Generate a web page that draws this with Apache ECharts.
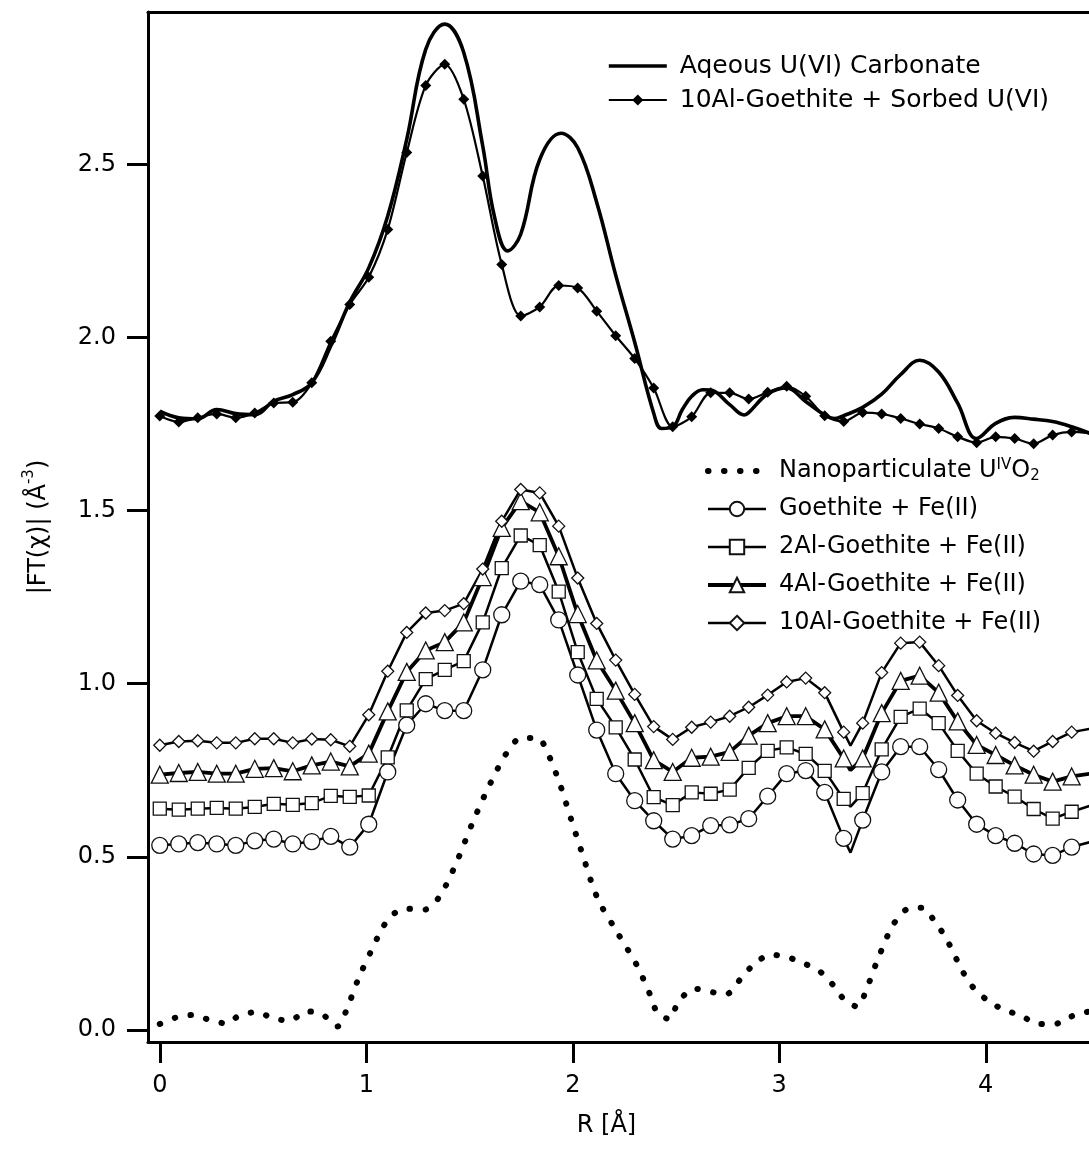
<!DOCTYPE html>
<html>
<head>
<meta charset="utf-8">
<title>|FT(χ)| vs R</title>
<script src="https://cdn.jsdelivr.net/npm/echarts@6/dist/echarts.min.js"></script>
<style>
  html, body { margin: 0; padding: 0; background: #ffffff; }
  #chart { width: 1089px; height: 1152px; }
</style>
</head>
<body>
<div id="chart"></div>
<script>
// R grid (Å) shared by the marker series
const rGrid = [0, 0.092, 0.184, 0.276, 0.368, 0.46, 0.552, 0.644, 0.736, 0.828,
  0.92, 1.012, 1.104, 1.196, 1.288, 1.38, 1.472, 1.564, 1.656, 1.748,
  1.84, 1.932, 2.024, 2.116, 2.208, 2.3, 2.392, 2.484, 2.576, 2.668,
  2.76, 2.852, 2.944, 3.036, 3.128, 3.22, 3.312, 3.404, 3.496, 3.588,
  3.68, 3.772, 3.864, 3.956, 4.048, 4.14, 4.232, 4.324, 4.416, 4.508];

// Fe(II)-reacted goethites: |FT| on the grid, plus the sharp minimum near 3.345 Å
const dipR = 3.345;
const goethiteFe = [0.533, 0.537, 0.541, 0.537, 0.533, 0.546, 0.551, 0.537, 0.544, 0.559,
  0.528, 0.594, 0.745, 0.880, 0.942, 0.922, 0.922, 1.040, 1.199, 1.296,
  1.286, 1.184, 1.025, 0.866, 0.740, 0.662, 0.604, 0.551, 0.561, 0.590,
  0.592, 0.610, 0.675, 0.740, 0.749, 0.686, 0.553, 0.606, 0.745, 0.818,
  0.818, 0.752, 0.664, 0.594, 0.561, 0.539, 0.508, 0.504, 0.528, 0.543];
const goethiteFeDip = 0.512;

const al2Fe = [0.639, 0.636, 0.639, 0.641, 0.639, 0.644, 0.653, 0.650, 0.655, 0.676,
  0.673, 0.677, 0.787, 0.923, 1.013, 1.040, 1.065, 1.177, 1.334, 1.428,
  1.400, 1.266, 1.091, 0.956, 0.874, 0.781, 0.672, 0.649, 0.686, 0.682,
  0.694, 0.757, 0.806, 0.816, 0.797, 0.748, 0.667, 0.684, 0.810, 0.904,
  0.928, 0.886, 0.806, 0.740, 0.703, 0.674, 0.638, 0.610, 0.630, 0.648];
const al2FeDip = 0.645;

const al4Fe = [0.737, 0.742, 0.745, 0.740, 0.740, 0.754, 0.756, 0.747, 0.764, 0.775,
  0.761, 0.798, 0.920, 1.034, 1.096, 1.120, 1.177, 1.308, 1.450, 1.527,
  1.495, 1.368, 1.201, 1.067, 0.980, 0.886, 0.779, 0.745, 0.786, 0.789,
  0.803, 0.850, 0.886, 0.906, 0.906, 0.868, 0.784, 0.784, 0.915, 1.008,
  1.023, 0.974, 0.891, 0.823, 0.794, 0.764, 0.737, 0.717, 0.732, 0.740];
const al4FeDip = 0.750;

const al10Fe = [0.822, 0.833, 0.835, 0.829, 0.829, 0.841, 0.841, 0.829, 0.840, 0.838,
  0.819, 0.910, 1.036, 1.148, 1.204, 1.211, 1.231, 1.331, 1.469, 1.561,
  1.551, 1.455, 1.305, 1.174, 1.068, 0.969, 0.876, 0.839, 0.874, 0.889,
  0.906, 0.932, 0.967, 1.005, 1.016, 0.974, 0.860, 0.886, 1.032, 1.117,
  1.120, 1.052, 0.966, 0.893, 0.857, 0.830, 0.805, 0.833, 0.860, 0.870];
const al10FeDip = 0.821;

// 10Al-goethite with sorbed U(VI), on the same grid
const al10Sorbed = [1.773, 1.756, 1.768, 1.779, 1.768, 1.782, 1.811, 1.813, 1.869, 1.989,
  2.095, 2.174, 2.312, 2.534, 2.728, 2.789, 2.688, 2.466, 2.211, 2.062,
  2.088, 2.150, 2.143, 2.076, 2.005, 1.939, 1.854, 1.742, 1.771, 1.840,
  1.840, 1.822, 1.842, 1.859, 1.830, 1.774, 1.757, 1.783, 1.779, 1.766,
  1.750, 1.737, 1.713, 1.696, 1.713, 1.708, 1.693, 1.718, 1.727, 1.723];

// Aqueous U(VI) carbonate reference (smooth curve)
const carbR = [0, 0.092, 0.184, 0.276, 0.368, 0.46, 0.552, 0.644, 0.736, 0.828,
  0.92, 1.012, 1.104, 1.196, 1.288, 1.38, 1.472, 1.564, 1.62, 1.685,
  1.748, 1.84, 1.943, 2.024, 2.116, 2.208, 2.30, 2.392, 2.43, 2.484,
  2.53, 2.576, 2.63, 2.668, 2.76, 2.83, 2.852, 2.944, 3.036, 3.128,
  3.22, 3.27, 3.312, 3.404, 3.496, 3.588, 3.68, 3.772, 3.864, 3.956,
  4.048, 4.14, 4.232, 4.324, 4.416, 4.508];
const carbonate = [1.787, 1.768, 1.765, 1.792, 1.780, 1.777, 1.816, 1.835, 1.869, 1.975,
  2.102, 2.201, 2.351, 2.572, 2.832, 2.905, 2.823, 2.553, 2.351, 2.250,
  2.298, 2.514, 2.590, 2.548, 2.390, 2.180, 1.986, 1.781, 1.737, 1.742,
  1.791, 1.830, 1.849, 1.848, 1.806, 1.776, 1.783, 1.837, 1.854, 1.815,
  1.776, 1.766, 1.774, 1.798, 1.836, 1.893, 1.934, 1.900, 1.810, 1.708,
  1.752, 1.769, 1.764, 1.757, 1.742, 1.722];

// Nanoparticulate UO2 (dotted curve)
const nanoR = [0, 0.08, 0.16, 0.24, 0.32, 0.39, 0.47, 0.55, 0.63, 0.71,
  0.78, 0.86, 0.90, 0.96, 1.03, 1.07, 1.12, 1.20, 1.28, 1.35,
  1.43, 1.52, 1.60, 1.68, 1.75, 1.83, 1.88, 1.94, 1.99, 2.04,
  2.12, 2.21, 2.31, 2.38, 2.41, 2.47, 2.51, 2.59, 2.66, 2.74,
  2.81, 2.88, 2.96, 3.04, 3.11, 3.19, 3.26, 3.32, 3.38, 3.42,
  3.48, 3.55, 3.62, 3.69, 3.76, 3.81, 3.89, 3.94, 4.02, 4.09,
  4.17, 4.25, 4.33, 4.40, 4.48, 4.52];
const nanoUO2 = [0.017, 0.036, 0.043, 0.029, 0.019, 0.043, 0.051, 0.033, 0.027, 0.053,
  0.048, 0.010, 0.051, 0.145, 0.236, 0.284, 0.330, 0.350, 0.347, 0.381,
  0.474, 0.606, 0.711, 0.800, 0.843, 0.843, 0.798, 0.706, 0.612, 0.520,
  0.380, 0.287, 0.187, 0.094, 0.049, 0.031, 0.080, 0.119, 0.111, 0.102,
  0.145, 0.191, 0.217, 0.210, 0.194, 0.172, 0.130, 0.084, 0.067, 0.114,
  0.208, 0.302, 0.349, 0.353, 0.307, 0.262, 0.167, 0.122, 0.080, 0.058,
  0.041, 0.018, 0.016, 0.036, 0.050, 0.056];

// Axis ticks
const xTicks = [0, 1, 2, 3, 4];
const yTicks = [0, 0.5, 1.0, 1.5, 2.0, 2.5];

const NAMES = {
  carb: 'Aqeous U(VI) Carbonate',
  sorbed: '10Al-Goethite + Sorbed U(VI)',
  nano: 'Nanoparticulate UO2',
  g0: 'Goethite + Fe(II)',
  g2: '2Al-Goethite + Fe(II)',
  g4: '4Al-Goethite + Fe(II)',
  g10: '10Al-Goethite + Fe(II)'
};

const FONT = 'DejaVu Sans';

// shared line looks, used by the series and by their legend keys
const STYLE = {
  carb: { color: '#000', width: 3.6 },
  sorbed: { color: '#000', width: 2.2 },
  nano: { color: '#000', width: 6, type: [0.5, 15.5], cap: 'round', join: 'round' },
  g0: { color: '#000', width: 2.5 },
  g2: { color: '#000', width: 2.5 },
  g4: { color: '#000', width: 3.8 },
  g10: { color: '#000', width: 2.5 }
};

function pairs(xs, ys) {
  return ys.map((v, i) => [xs[i], v]);
}

// grid points, with the unmarked minimum vertex placed between 3.312 and 3.404 Å
function withDip(vals, dipVal) {
  const out = [];
  vals.forEach((v, i) => {
    out.push([rGrid[i], v]);
    if (rGrid[i] < dipR && rGrid[i + 1] > dipR) {
      out.push({ value: [dipR, dipVal], symbol: 'none' });
    }
  });
  return out;
}

function markerSeries(key, vals, dipVal, symbol, size) {
  return {
    name: NAMES[key],
    type: 'line',
    data: withDip(vals, dipVal),
    symbol: symbol,
    symbolSize: size,
    showAllSymbol: true,
    lineStyle: STYLE[key],
    itemStyle: { color: '#ffffff', borderColor: '#111', borderWidth: 1.3 },
    emphasis: { disabled: true }
  };
}

const chart = echarts.init(document.getElementById('chart'), null, { renderer: 'canvas' });

const option = {
  animation: false,
  backgroundColor: '#ffffff',
  textStyle: { fontFamily: FONT },
  grid: { left: 148, right: 0, top: 12, bottom: 110, containLabel: false, outerBoundsMode: 'none' },
  xAxis: [{
    type: 'value',
    min: -0.057,
    max: 4.5,
    position: 'bottom',
    name: 'R [Å]',
    nameLocation: 'middle',
    nameGap: 72,
    nameTextStyle: { fontFamily: FONT, fontSize: 24, color: '#000', padding: [0, 24, 0, 0] },
    axisLine: { onZero: false, lineStyle: { color: '#000', width: 3 } },
    axisTick: { show: true, inside: false, length: 21, customValues: xTicks, lineStyle: { color: '#000', width: 3 } },
    axisLabel: { customValues: xTicks, fontFamily: FONT, fontSize: 24, color: '#000', margin: 32 },
    splitLine: { show: false }
  }, {
    type: 'value',
    min: -0.057,
    max: 4.5,
    position: 'top',
    axisLine: { onZero: false, lineStyle: { color: '#000', width: 3 } },
    axisTick: { show: false },
    axisLabel: { show: false },
    splitLine: { show: false }
  }],
  yAxis: {
    type: 'value',
    min: -0.035,
    max: 2.94,
    name: '|FT(χ)| (Å{sup|-3})',
    nameLocation: 'middle',
    nameGap: 92,
    nameTextStyle: {
      fontFamily: FONT, fontSize: 24, color: '#000', lineHeight: 34,
      rich: { sup: { fontFamily: FONT, fontSize: 15, lineHeight: 14, verticalAlign: 'top', color: '#000' } }
    },
    axisLine: { onZero: false, lineStyle: { color: '#000', width: 3 } },
    axisTick: { show: true, inside: false, length: 21, customValues: yTicks, lineStyle: { color: '#000', width: 3 } },
    axisLabel: {
      customValues: yTicks, fontFamily: FONT, fontSize: 24, color: '#000', margin: 32,
      formatter: v => v.toFixed(1)
    },
    splitLine: { show: false }
  },
  legend: [{
    orient: 'vertical',
    left: 602,
    top: 48,
    itemWidth: 58,
    itemHeight: 14,
    itemGap: 8,
    selectedMode: false,
    data: [
      { name: NAMES.carb, itemStyle: { opacity: 0 }, lineStyle: STYLE.carb },
      { name: NAMES.sorbed, lineStyle: STYLE.sorbed }
    ],
    textStyle: { fontFamily: FONT, fontSize: 25, color: '#000', lineHeight: 26, padding: [0, 0, 0, 8] }
  }, {
    orient: 'vertical',
    left: 700,
    top: 453,
    itemWidth: 58,
    itemHeight: 18,
    itemGap: 12,
    selectedMode: false,
    data: [
      { name: NAMES.nano, itemStyle: { opacity: 0 }, lineStyle: STYLE.nano },
      { name: NAMES.g0, lineStyle: STYLE.g0 },
      { name: NAMES.g2, lineStyle: STYLE.g2 },
      { name: NAMES.g4, lineStyle: STYLE.g4 },
      { name: NAMES.g10, lineStyle: STYLE.g10 }
    ],
    formatter: name => name === NAMES.nano ? 'Nanoparticulate U{sup|IV}O{sub|2}' : name,
    textStyle: {
      fontFamily: FONT, fontSize: 24, color: '#000', lineHeight: 26, padding: [0, 0, 0, 8],
      rich: {
        sup: { fontFamily: FONT, fontSize: 15, lineHeight: 14, verticalAlign: 'top', color: '#000' },
        sub: { fontFamily: FONT, fontSize: 15, lineHeight: 14, verticalAlign: 'bottom', color: '#000' }
      }
    }
  }],
  series: [
    {
      name: NAMES.nano,
      type: 'line',
      data: pairs(nanoR, nanoUO2),
      symbol: 'none',
      smooth: 0.3,
      lineStyle: STYLE.nano,
      itemStyle: { color: '#000' },
      emphasis: { disabled: true }
    },
    markerSeries('g0', goethiteFe, goethiteFeDip, 'circle', 16),
    markerSeries('g2', al2Fe, al2FeDip, 'rect', 13),
    markerSeries('g4', al4Fe, al4FeDip, 'triangle', 17),
    markerSeries('g10', al10Fe, al10FeDip, 'diamond', 12),
    {
      name: NAMES.sorbed,
      type: 'line',
      data: pairs(rGrid, al10Sorbed),
      symbol: 'diamond',
      symbolSize: 11,
      showAllSymbol: true,
      smooth: 0.3,
      lineStyle: STYLE.sorbed,
      itemStyle: { color: '#000' },
      emphasis: { disabled: true }
    },
    {
      name: NAMES.carb,
      type: 'line',
      data: pairs(carbR, carbonate),
      symbol: 'none',
      smooth: 0.4,
      lineStyle: STYLE.carb,
      itemStyle: { color: '#000' },
      emphasis: { disabled: true }
    }
  ]
};

chart.setOption(option);
</script>
</body>
</html>
